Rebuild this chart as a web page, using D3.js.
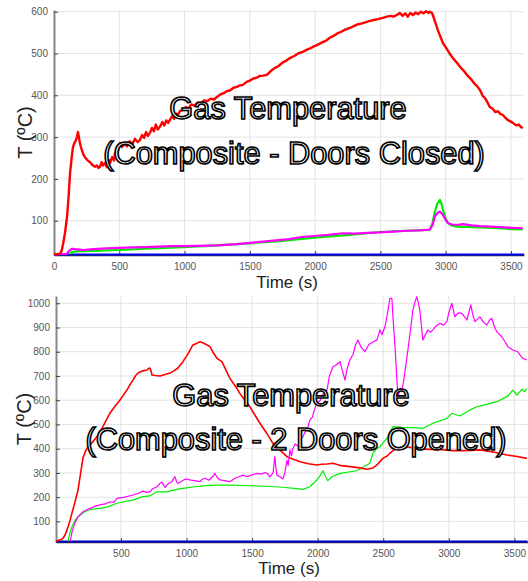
<!DOCTYPE html>
<html>
<head>
<meta charset="utf-8">
<script src="https://cdn.jsdelivr.net/npm/d3@7"></script>
<style>
  body { margin: 0; background: #fff; }
  svg { display: block; }
  svg text { font-family: "Liberation Sans", Arial, sans-serif; }
  .grid line { stroke: #e3e3e3; stroke-width: 1; }
  .tick text { fill: #555; font-size: 10px; }
  .title { fill: #fff; stroke: #000; stroke-width: 1.6px; font-size: 30.8px; }
</style>
</head>
<body>
<svg width="528" height="581"></svg>
<script>
// top chart: doors closed
const topXTicks = [0, 500, 1000, 1500, 2000, 2500, 3000, 3500];
const topYTicks = [100, 200, 300, 400, 500, 600];
const topTitle = ["Gas Temperature", "(Composite - Doors Closed)"];

const topRed = [
  [0,20],[30,20],[50,22],[60,30],[70,45],[84,70],[100,110],[110,150],[123,214],[135,250],[145,276],[155,285],
  [168,293],[175,300],[184,312],[190,300],[199,286],[207,275],[214,269],[225,258],[237,252],[255,245],[276,240],
  [295,233],[314,229],[330,232],[340,226],[352,229],[365,240],[375,232],[390,238],[405,228],[420,245],[429,238],
  [445,252],[460,244],[467,262],[480,255],[492,270],[505,286],[520,276],[540,284],[560,278],[580,290],[600,283],
  [620,296],[640,288],[658,293],[675,305],[690,298],[705,312],[720,303],[735,310],[750,322],[765,314],[780,330],
  [795,318],[812,325],[830,336],[845,328],[860,340],[875,334],[888,341],[905,350],[920,344],[935,356],[949,353],
  [965,362],[988,365],[1010,372],[1030,368],[1050,378],[1075,375],[1100,383],[1125,380],[1150,388],[1175,386],
  [1200,392],[1225,390],[1248,396],[1275,402],[1300,405],[1325,410],[1350,412],[1375,418],[1400,420],[1425,424],
  [1447,425],[1475,432],[1500,435],[1525,440],[1550,442],[1575,446],[1600,447],[1631,449],[1660,458],[1690,465],
  [1720,470],[1750,478],[1780,483],[1807,489],[1840,494],[1870,500],[1900,503],[1930,508],[1960,512],[1990,517],
  [2014,520],[2050,526],[2080,530],[2110,537],[2140,542],[2170,548],[2200,552],[2230,557],[2266,561],[2300,566],
  [2330,570],[2360,572],[2390,575],[2420,578],[2450,580],[2480,582],[2519,585],[2550,588],[2580,590],[2600,588],
  [2626,592],[2649,597],[2670,590],[2690,596],[2710,588],[2730,597],[2749,592],[2770,598],[2790,594],[2810,600],
  [2830,596],[2850,601],[2870,597],[2879,600],[2895,597],[2902,592],[2920,575],[2940,556],[2960,540],[2979,525],
  [3000,515],[3030,500],[3055,489],[3080,480],[3110,468],[3140,458],[3162,449],[3190,440],[3220,428],[3240,422],
  [3262,413],[3285,398],[3300,394],[3320,383],[3338,372],[3360,368],[3380,360],[3400,362],[3420,355],[3438,353],
  [3460,345],[3480,340],[3500,337],[3515,334],[3540,328],[3560,330],[3575,324],[3591,322]
];
const topGreen = [
  [120,20],[130,24],[150,26],[200,27],[300,28],[500,30],[700,33],[988,37],[1250,41],[1500,46],[1750,52],
  [2014,60],[2266,66],[2496,73],[2700,76],[2879,78],[2900,95],[2917,122],[2935,140],[2956,150],[2970,138],
  [2979,126],[3000,105],[3017,95],[3050,88],[3086,86],[3150,85],[3262,84],[3400,82],[3500,80],[3591,79]
];
const topMagenta = [
  [0,20],[50,20],[100,21],[110,26],[125,30],[140,33],[160,32],[200,31],[222,30],[300,32],[400,34],[500,35],
  [600,36],[700,37],[800,38],[900,39],[1000,39],[1100,40],[1248,41],[1400,44],[1500,47],[1600,50],[1700,53],
  [1800,56],[1900,61],[2014,64],[2100,66],[2213,70],[2300,69],[2400,71],[2496,72],[2600,74],[2700,76],[2800,77],
  [2879,79],[2900,90],[2917,110],[2935,118],[2956,122],[2979,114],[3000,102],[3017,94],[3050,91],[3100,90],
  [3132,92],[3200,89],[3262,87],[3350,86],[3450,84],[3591,82]
];
const topBlue = [[0,19],[3600,19]];

// bottom chart: 2 doors opened
const bottomXTicks = [500, 1000, 1500, 2000, 2500, 3000, 3500];
const bottomYTicks = [100, 200, 300, 400, 500, 600, 700, 800, 900, 1000];
const bottomTitle = ["Gas Temperature", "(Composite - 2 Doors Opened)"];

const bottomRed = [
  [5,18],[13,20],[40,24],[58,30],[75,45],[89,65],[110,100],[127,135],[150,180],[173,230],[190,290],[211,362],
  [230,390],[249,408],[280,425],[318,450],[340,470],[363,491],[390,520],[417,547],[455,575],[493,601],[520,622],
  [546,642],[570,665],[592,683],[610,700],[630,712],[660,720],[699,725],[715,732],[721,733],[730,720],[737,704],
  [760,702],[798,700],[830,705],[874,712],[900,720],[935,733],[973,759],[1010,790],[1049,828],[1080,835],
  [1103,841],[1130,836],[1150,830],[1179,821],[1200,800],[1232,773],[1270,759],[1300,725],[1331,690],[1370,660],
  [1407,628],[1445,600],[1483,573],[1520,540],[1560,505],[1610,465],[1659,422],[1700,400],[1766,367],[1820,355],
  [1865,346],[1930,338],[1994,333],[2030,336],[2071,337],[2116,340],[2180,330],[2246,326],[2310,322],[2375,315],
  [2420,320],[2452,333],[2497,360],[2530,370],[2551,381],[2580,395],[2627,402],[2680,408],[2760,400],[2856,397],
  [2950,396],[3030,392],[3107,392],[3170,393],[3237,395],[3300,390],[3366,383],[3443,374],[3520,368],[3595,360]
];
const bottomGreen = [
  [96,18],[110,50],[127,78],[150,105],[173,119],[211,135],[249,147],[300,152],[340,154],[400,160],[470,175],
  [530,182],[592,188],[668,202],[721,205],[775,222],[851,222],[935,233],[973,236],[1050,242],[1150,248],
  [1232,250],[1350,250],[1483,247],[1600,245],[1735,241],[1820,236],[1888,232],[1941,243],[1994,271],[2020,290],
  [2040,309],[2060,285],[2078,268],[2109,284],[2170,298],[2299,309],[2398,340],[2421,381],[2450,400],[2475,408],
  [2536,449],[2574,491],[2650,488],[2726,487],[2802,484],[2879,505],[2985,525],[3023,546],[3084,535],[3161,560],
  [3214,573],[3290,583],[3366,594],[3450,617],[3488,642],[3519,621],[3557,645],[3580,635],[3595,649]
];
const bottomMagenta = [
  [112,18],[120,35],[127,57],[150,95],[173,119],[211,140],[249,150],[300,162],[340,168],[380,172],[417,181],
  [445,178],[470,195],[530,200],[592,209],[630,215],[668,225],[700,220],[721,222],[744,236],[775,243],[798,257],
  [813,262],[836,240],[860,255],[889,264],[905,280],[912,285],[925,262],[935,257],[960,265],[990,275],[1026,271],
  [1060,268],[1103,264],[1120,274],[1141,278],[1170,270],[1200,285],[1217,298],[1235,280],[1255,271],[1290,268],
  [1331,264],[1370,278],[1400,284],[1430,291],[1460,285],[1500,292],[1537,298],[1570,295],[1598,302],[1620,296],
  [1636,284],[1660,300],[1674,367],[1682,320],[1689,291],[1710,285],[1735,275],[1750,300],[1766,353],[1775,330],
  [1789,395],[1800,370],[1811,400],[1830,420],[1850,410],[1870,440],[1888,449],[1905,470],[1920,480],[1941,518],
  [1960,530],[1975,560],[1994,587],[2020,600],[2045,630],[2071,642],[2090,700],[2116,738],[2140,745],[2170,759],
  [2190,720],[2208,683],[2225,730],[2246,766],[2270,790],[2290,830],[2307,848],[2330,820],[2360,800],[2390,830],
  [2420,840],[2452,848],[2475,890],[2490,870],[2513,903],[2530,950],[2551,1020],[2566,1020],[2574,944],[2590,820],
  [2604,683],[2612,614],[2630,650],[2642,642],[2657,683],[2688,807],[2710,900],[2726,972],[2745,1010],[2756,1027],
  [2768,1000],[2779,972],[2802,848],[2820,870],[2840,890],[2860,880],[2879,890],[2900,905],[2932,917],[2960,910],
  [2985,924],[3000,960],[3023,1000],[3046,944],[3070,960],[3099,958],[3138,931],[3168,993],[3180,960],[3199,924],
  [3237,944],[3260,925],[3290,910],[3310,930],[3328,938],[3351,897],[3370,880],[3404,862],[3430,840],[3450,821],
  [3488,807],[3526,800],[3545,785],[3564,773],[3595,766]
];
const bottomBlue = [[5,17],[3600,17]];

const svg = d3.select("svg");

function drawPanel(opt) {
    const x = d3.scaleLinear().domain(opt.xDomain).range(opt.xRange);
    const y = d3.scaleLinear().domain(opt.yDomain).range(opt.yRange);
    const g = svg.append("g");

    g.append("g").attr("class", "grid")
        .selectAll("line").data(opt.yTicks).enter().append("line")
        .attr("x1", opt.xRange[0]).attr("x2", opt.xRange[1])
        .attr("y1", d => y(d)).attr("y2", d => y(d));
    g.append("g").attr("class", "grid")
        .selectAll("line").data(opt.xTicks).enter().append("line")
        .attr("x1", d => x(d)).attr("x2", d => x(d))
        .attr("y1", opt.yRange[0]).attr("y2", opt.yRange[1]);

    const xAxis = g.append("g")
        .attr("transform", `translate(0,${opt.yRange[0]})`)
        .call(d3.axisBottom(x).tickValues(opt.xTicks).tickFormat(d3.format("d"))
            .tickSize(-4).tickPadding(8).tickSizeOuter(0));
    xAxis.select(".domain").attr("stroke", "#333").attr("stroke-width", 1.5);
    xAxis.selectAll(".tick line").attr("stroke", "#444");

    const yAxis = g.append("g")
        .attr("transform", `translate(${opt.xRange[0]},0)`)
        .call(d3.axisLeft(y).tickValues(opt.yTicks).tickFormat(d3.format("d"))
            .tickSize(-4).tickPadding(6).tickSizeOuter(0));
    yAxis.select(".domain").attr("stroke", "#888").attr("stroke-width", 2);
    yAxis.selectAll(".tick line").attr("stroke", "#444");

    const line = d3.line().x(d => x(d[0])).y(d => y(d[1]));
    opt.series.forEach(s => {
        g.append("path").datum(s.data)
            .attr("fill", "none")
            .attr("stroke", s.color)
            .attr("stroke-width", s.width)
            .attr("stroke-linejoin", "round")
            .attr("d", line);
    });

    g.append("text")
        .attr("transform", `translate(${opt.yLabelX},${(opt.yRange[0] + opt.yRange[1]) / 2}) rotate(-90)`)
        .attr("text-anchor", "middle")
        .attr("fill", "#222")
        .attr("font-size", 20)
        .text("T (ºC)");

    g.append("text")
        .attr("x", opt.xLabelX).attr("y", opt.xLabelY)
        .attr("text-anchor", "middle")
        .attr("fill", "#222")
        .attr("font-size", 17)
        .text("Time (s)");

    opt.title.forEach((t, i) => {
        g.append("text").attr("class", "title")
            .attr("x", opt.titleX[i]).attr("y", opt.titleY[i])
            .attr("text-anchor", "middle")
            .text(t);
    });
}

drawPanel({
    xDomain: [0, 3600], xRange: [54, 524],
    yDomain: [18, 604], yRange: [255, 10],
    xTicks: topXTicks, yTicks: topYTicks,
    series: [
        { data: topBlue, color: "#0000ff", width: 2 },
        { data: topGreen, color: "#00ee00", width: 2.2 },
        { data: topMagenta, color: "#ff00ff", width: 2.2 },
        { data: topRed, color: "#ff0000", width: 2.4 }
    ],
    yLabelX: 32,
    xLabelX: 287, xLabelY: 288,
    title: topTitle, titleX: [288, 294], titleY: [119, 164]
});

drawPanel({
    xDomain: [5, 3600], xRange: [56, 527.5],
    yDomain: [15, 1030], yRange: [542, 296],
    xTicks: bottomXTicks, yTicks: bottomYTicks,
    series: [
        { data: bottomBlue, color: "#0000cc", width: 2 },
        { data: bottomGreen, color: "#00ee00", width: 1.2 },
        { data: bottomRed, color: "#ff0000", width: 1.6 },
        { data: bottomMagenta, color: "#ff00ff", width: 1.2 }
    ],
    yLabelX: 31,
    xLabelX: 289, xLabelY: 574,
    title: bottomTitle, titleX: [291, 296], titleY: [406, 450]
});
</script>
</body>
</html>
